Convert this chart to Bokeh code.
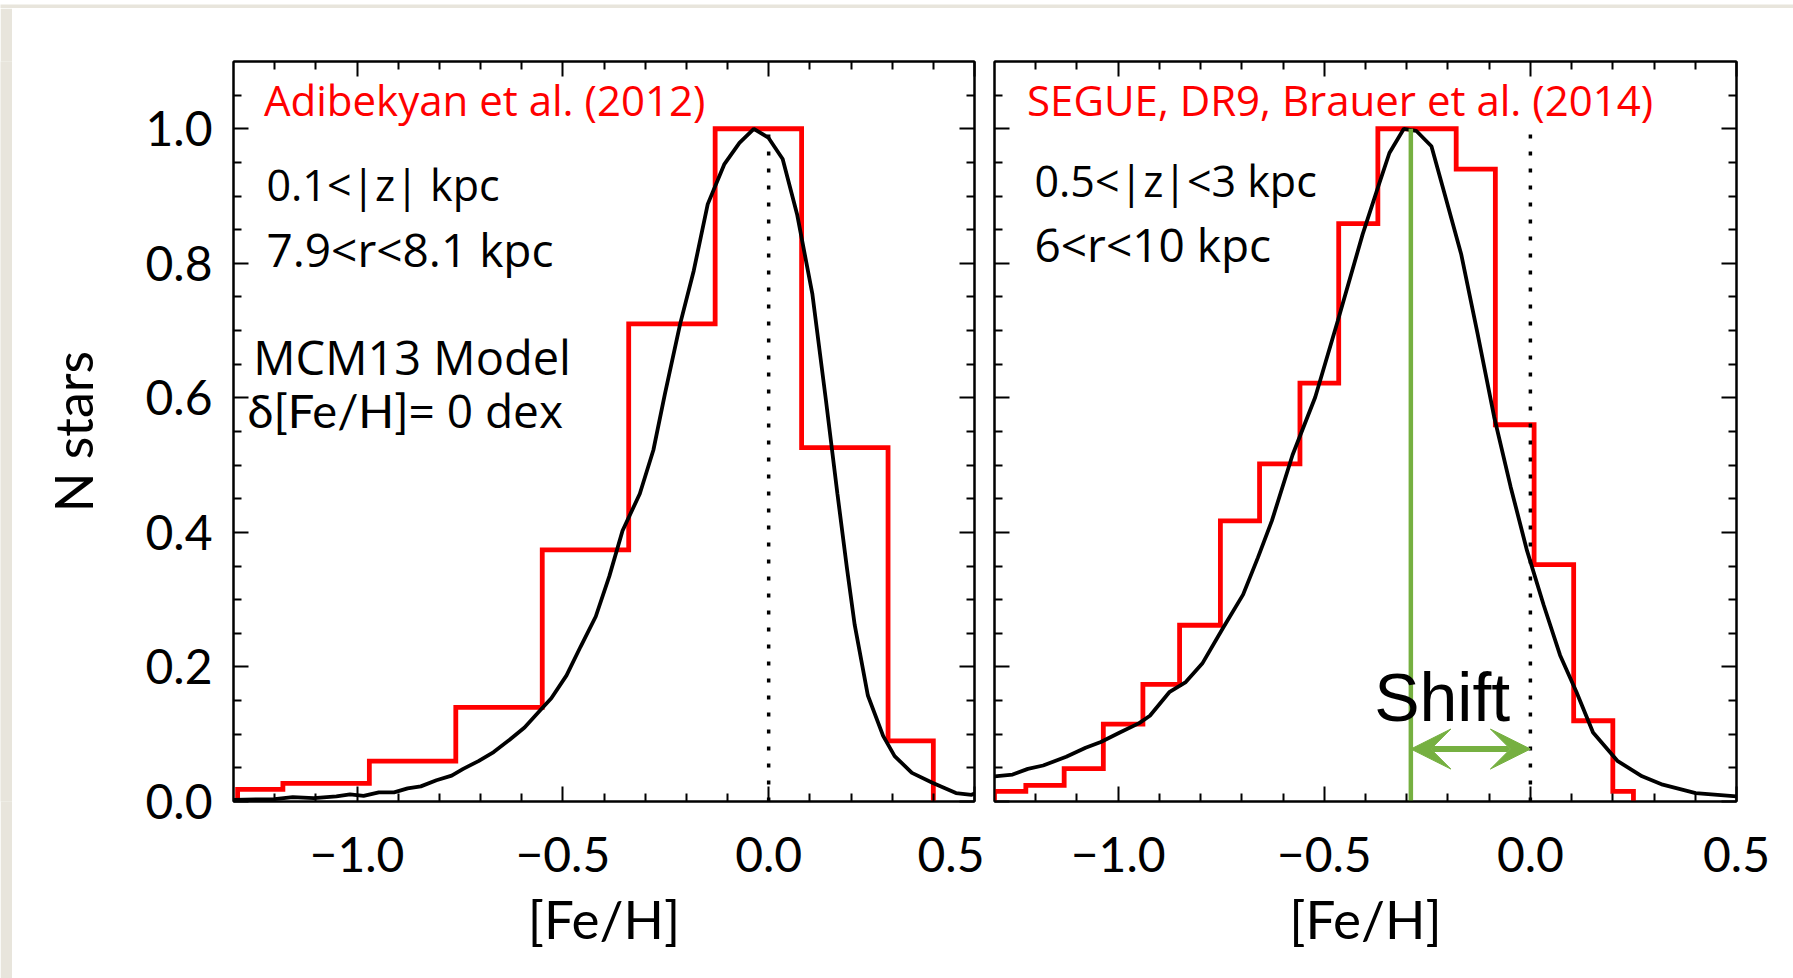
from bokeh.plotting import figure
from bokeh.layouts import row, column
from bokeh.models import (Label, FixedTicker, LinearAxis, Range1d, Arrow, VeeHead,
                          CustomLabelingPolicy)
from bokeh.embed import file_html
from bokeh.resources import INLINE

# ---------------- data ----------------
# Left panel: Adibekyan et al. (2012) histogram (bin edges and normalised counts)
adib_edges = [-1.29, -1.18, -0.97, -0.76, -0.55, -0.34, -0.13, 0.08, 0.29, 0.40]
adib_counts = [0.018, 0.027, 0.06, 0.14, 0.374, 0.71, 1.0, 0.526, 0.09]

# Left panel: MCM13 model curve
model_left_feh = [-1.30, -1.20, -1.156, -1.105, -1.05, -1.017, -0.984, -0.947, -0.910, -0.877,
                  -0.845, -0.807, -0.770, -0.742, -0.705, -0.668, -0.630, -0.593, -0.556, -0.528,
                  -0.491, -0.457, -0.420, -0.387, -0.355, -0.313, -0.280, -0.252, -0.215, -0.182,
                  -0.148, -0.108, -0.071, -0.036, -0.001, 0.034, 0.069, 0.106, 0.139, 0.167,
                  0.190, 0.209, 0.241, 0.278, 0.306, 0.348, 0.399, 0.455, 0.493, 0.50]
model_left_n = [0.0025, 0.0035, 0.0065, 0.005, 0.0075, 0.0105, 0.0085, 0.0135, 0.0135, 0.0195,
                0.0225, 0.0315, 0.0385, 0.0485, 0.06, 0.0735, 0.0915, 0.11, 0.135, 0.1535,
                0.1875, 0.23, 0.275, 0.335, 0.4025, 0.4575, 0.5225, 0.606, 0.71, 0.789,
                0.888, 0.947, 0.979, 1.0, 0.987, 0.955, 0.873, 0.755, 0.597, 0.4575,
                0.3475, 0.2625, 0.1575, 0.0975, 0.0675, 0.0425, 0.0275, 0.0125, 0.01, 0.012]

# Right panel: SEGUE DR9, Brauer et al. (2014) histogram
segue_edges = [-1.30, -1.224, -1.131, -1.036, -0.940, -0.851, -0.752, -0.657, -0.559,
               -0.465, -0.370, -0.275, -0.180, -0.085, 0.009, 0.105, 0.200, 0.250]
segue_counts = [0.015, 0.024, 0.049, 0.115, 0.174, 0.262, 0.417, 0.502, 0.622,
                0.859, 1.0, 1.0, 0.94, 0.56, 0.352, 0.12, 0.015]

# Right panel: model curve
model_right_feh = [-1.30, -1.256, -1.219, -1.182, -1.126, -1.079, -1.042, -0.996, -0.949, -0.923,
                   -0.876, -0.836, -0.796, -0.746, -0.697, -0.661, -0.627, -0.577, -0.522, -0.467,
                   -0.407, -0.367, -0.342, -0.307, -0.277, -0.240, -0.208, -0.168, -0.128, -0.088,
                   -0.048, -0.008, 0.032, 0.072, 0.112, 0.152, 0.212, 0.271, 0.321, 0.401, 0.50]
model_right_n = [0.0375, 0.04, 0.0485, 0.0535, 0.0665, 0.08, 0.0885, 0.1025, 0.1165, 0.1275,
                 0.1625, 0.1775, 0.205, 0.2575, 0.3075, 0.3625, 0.4175, 0.515, 0.601, 0.715,
                 0.843, 0.918, 0.964, 1.0, 0.997, 0.974, 0.903, 0.814, 0.695, 0.572,
                 0.468, 0.3725, 0.2925, 0.2175, 0.1625, 0.1025, 0.06, 0.0375, 0.025, 0.0125, 0.0075]

solar_feh = 0.0        # dotted reference line
segue_peak_feh = -0.29  # green line (peak of shifted distribution)
peak_norm = 1.0
arrow_level = 0.078

x_ticks = [-1.0, -0.5, 0.0, 0.5]
x_tick_labels = ["\u22121.0", "\u22120.5", "0.0", "0.5"]
y_ticks = [0.0, 0.2, 0.4, 0.6, 0.8, 1.0]
y_tick_labels = ["0.0", "0.2", "0.4", "0.6", "0.8", "1.0"]
x_minor = [-1.2, -1.1, -0.9, -0.8, -0.7, -0.6, -0.4, -0.3, -0.2, -0.1, 0.1, 0.2, 0.3, 0.4]
y_minor = [0.05, 0.1, 0.15, 0.25, 0.3, 0.35, 0.45, 0.5, 0.55, 0.65, 0.7, 0.75, 0.85, 0.9, 0.95, 1.05]

# ---------------- styling ----------------
RED = "#ff0000"
GREEN = "#76b041"
GRAY = "#e8e5dc"
TICK_FONT = "Lato"
TEXT_FONT = "Open Sans"
H = 970
DY = 0.028  # baseline correction for panel texts

NO_LABELS = CustomLabelingPolicy(code="""
for (const i of indices) { indices.unset(i) }
return indices
""")


def step_outline(edges, counts):
    xs, ys = [edges[0]], [0.0]
    for i, c in enumerate(counts):
        xs += [edges[i], edges[i + 1]]
        ys += [c, c]
    xs.append(edges[-1])
    ys.append(0.0)
    return xs, ys


def style_axis(ax, show_labels):
    ax.axis_line_color = "black"
    ax.axis_line_width = 2
    ax.major_tick_in = 15
    ax.major_tick_out = 0
    ax.minor_tick_in = 8
    ax.minor_tick_out = 0
    ax.major_tick_line_width = 2
    ax.minor_tick_line_width = 2
    ax.major_tick_line_color = "black"
    ax.minor_tick_line_color = "black"
    ax.major_label_text_font = TICK_FONT
    ax.major_label_text_color = "black"
    if show_labels:
        ax.major_label_text_font_size = "48px"
    else:
        ax.major_label_text_font_size = "0px"
        ax.major_label_standoff = 0
        ax.major_label_policy = NO_LABELS


def make_panel(width, b_left, b_right, y_labels):
    p = figure(width=width, height=H, x_range=Range1d(-1.3, 0.5), y_range=Range1d(0.0, 1.1),
               output_backend="svg", toolbar_location=None,
               x_axis_location=None, y_axis_location=None,
               min_border_left=b_left, min_border_right=b_right,
               min_border_top=53, min_border_bottom=177,
               background_fill_color="white", border_fill_color="white",
               outline_line_color="black", outline_line_width=2)
    p.grid.visible = False

    xb = LinearAxis(ticker=FixedTicker(ticks=x_ticks, minor_ticks=x_minor),
                    major_label_overrides=dict(zip(x_ticks, x_tick_labels)))
    style_axis(xb, True)
    xb.major_label_standoff = 35
    xb.axis_label = "[Fe/H]"
    xb.axis_label_text_font = TICK_FONT
    xb.axis_label_text_font_size = "53px"
    xb.axis_label_text_color = "black"
    xb.axis_label_text_font_style = "normal"
    xb.axis_label_standoff = 12
    p.add_layout(xb, "below")

    xt = LinearAxis(ticker=FixedTicker(ticks=x_ticks, minor_ticks=x_minor))
    style_axis(xt, False)
    p.add_layout(xt, "above")

    yl = LinearAxis(ticker=FixedTicker(ticks=y_ticks, minor_ticks=y_minor),
                    major_label_overrides=dict(zip(y_ticks, y_tick_labels)))
    style_axis(yl, y_labels)
    if y_labels:
        yl.major_label_standoff = 21
        yl.axis_label = "N stars"
        yl.axis_label_text_font = TICK_FONT
        yl.axis_label_text_font_size = "52px"
        yl.axis_label_text_color = "black"
        yl.axis_label_text_font_style = "normal"
        yl.axis_label_standoff = 38
    p.add_layout(yl, "left")

    yr = LinearAxis(ticker=FixedTicker(ticks=y_ticks, minor_ticks=y_minor))
    style_axis(yr, False)
    p.add_layout(yr, "right")
    return p


def add_text(p, x, y, text, size, color="black", font=TEXT_FONT, style="normal"):
    p.add_layout(Label(x=x, y=y + DY, text=text, text_font=font, text_font_size=size,
                       text_color=color, text_align="left", text_baseline="alphabetic",
                       text_font_style=style))


# ---------------- left panel ----------------
pl = make_panel(972, 221, 10, True)
hx, hy = step_outline(adib_edges, adib_counts)
pl.line(hx, hy, line_color=RED, line_width=4.8, line_join="miter")
pl.line(model_left_feh, model_left_n, line_color="black", line_width=3.8)
pl.segment(x0=[solar_feh], y0=[0.0], x1=[solar_feh], y1=[peak_norm],
           line_color="black", line_width=3.5, line_dash="4 13")

add_text(pl, -1.226, 1.016, "Adibekyan et al. (2012)", "42px", RED)
add_text(pl, -1.22, 0.889, "0.1<|z| kpc", "43px")
add_text(pl, -1.22, 0.794, "7.9<r<8.1 kpc", "46px")
add_text(pl, -1.252, 0.633, "MCM13 Model", "47px")
add_text(pl, -1.266, 0.554, "\u03b4[Fe/H]", "47px", font=TICK_FONT)
add_text(pl, -0.875, 0.554, "= 0 dex", "46px")

# ---------------- right panel ----------------
pr = make_panel(809, 10, 57, False)
hx2, hy2 = step_outline(segue_edges, segue_counts)
pr.line(hx2, hy2, line_color=RED, line_width=4.8, line_join="miter")
pr.line(model_right_feh, model_right_n, line_color="black", line_width=3.8)
pr.segment(x0=[solar_feh], y0=[0.0], x1=[solar_feh], y1=[peak_norm],
           line_color="black", line_width=3.5, line_dash="4 13")
pr.segment(x0=[segue_peak_feh], y0=[0.0], x1=[segue_peak_feh], y1=[peak_norm],
           line_color=GREEN, line_width=4.5)
pr.add_layout(Arrow(start=VeeHead(size=40, fill_color=GREEN, line_color=GREEN),
                    end=VeeHead(size=40, fill_color=GREEN, line_color=GREEN),
                    x_start=segue_peak_feh, y_start=arrow_level,
                    x_end=solar_feh, y_end=arrow_level,
                    line_color=GREEN, line_width=6))

add_text(pr, -1.221, 1.016, "SEGUE, DR9, Brauer et al. (2014)", "42px", RED)
add_text(pr, -1.203, 0.895, "0.5<|z|<3 kpc", "43px")
add_text(pr, -1.203, 0.800, "6<r<10 kpc", "46px")
add_text(pr, -0.379, 0.127, "Shift", "68px", font="Liberation Sans")


# ---------------- frame (gray page border) ----------------
def strip(w, h):
    s = figure(width=w, height=h, output_backend="svg", toolbar_location=None,
               x_axis_location=None, y_axis_location=None, min_border=0,
               outline_line_color=None, background_fill_color=GRAY, border_fill_color=GRAY)
    s.grid.visible = False
    return s


layout = column(strip(1793, 8), row(strip(12, H), pl, pr))

open("out.html", "w").write(file_html(layout, INLINE))
